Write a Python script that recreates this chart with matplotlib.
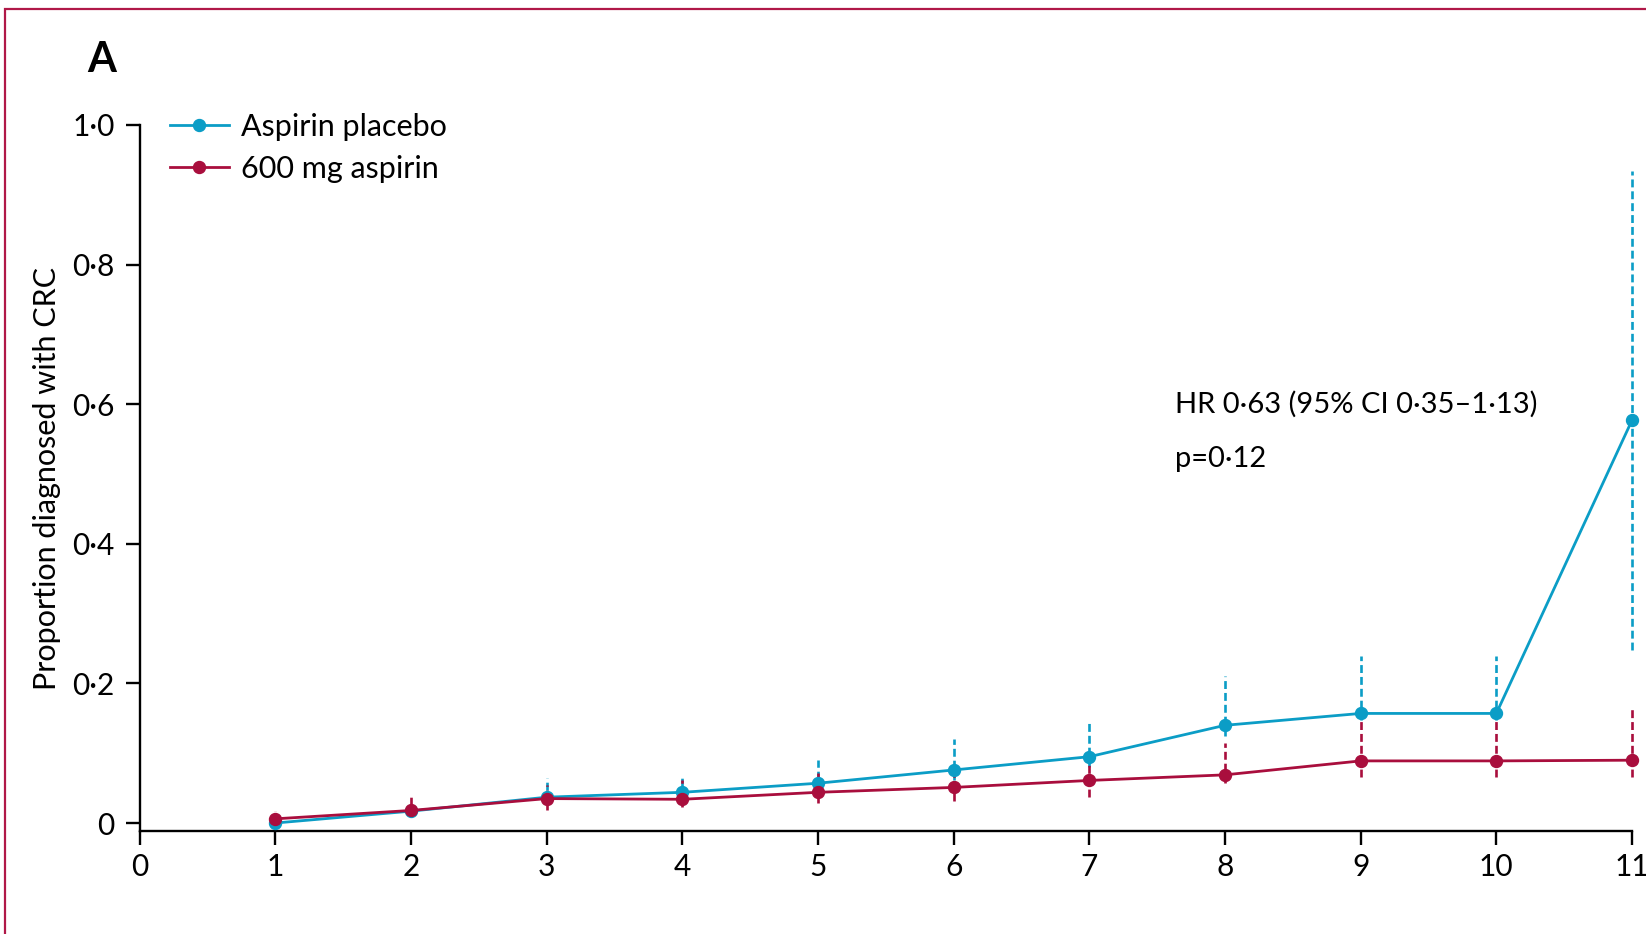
import matplotlib
matplotlib.use("Agg")
import matplotlib.pyplot as plt
from matplotlib.patches import Rectangle

# ---- data ----
years = [1, 2, 3, 4, 5, 6, 7, 8, 9, 10, 11]

placebo = [0.000, 0.017, 0.037, 0.044, 0.057, 0.076, 0.095, 0.140, 0.157, 0.157, 0.577]
placebo_lower = [0.000, 0.017, 0.030, 0.036, 0.046, 0.062, 0.080, 0.124, 0.148, 0.148, 0.248]
placebo_upper = [0.000, 0.017, 0.064, 0.069, 0.090, 0.120, 0.144, 0.210, 0.239, 0.239, 0.934]

aspirin = [0.006, 0.018, 0.035, 0.034, 0.044, 0.051, 0.061, 0.069, 0.089, 0.089, 0.090]
aspirin_lower = [0.000, 0.008, 0.019, 0.023, 0.028, 0.032, 0.037, 0.057, 0.066, 0.066, 0.066]
aspirin_upper = [0.017, 0.039, 0.054, 0.061, 0.072, 0.069, 0.083, 0.114, 0.163, 0.163, 0.163]

series_labels = ["Aspirin placebo", "600 mg aspirin"]
x_ticks = list(range(0, 12))
y_ticks = [0, 0.2, 0.4, 0.6, 0.8, 1.0]
y_tick_labels = ["0", "0·2", "0·4", "0·6", "0·8", "1·0"]
y_label = "Proportion diagnosed with CRC"
panel_label = "A"
hr_text = "HR 0·63 (95% CI 0·35–1·13)"
p_text = "p=0·12"

BLUE = "#0B9DC6"
RED = "#A90E3D"
FRAME = "#B01848"

plt.rcParams['font.family'] = ['Lato', 'DejaVu Sans']

W, H = 1646, 934
fig = plt.figure(figsize=(W / 100, H / 100), dpi=100)
ax = fig.add_axes([139.6 / W, 1 - 830.7 / H, (1632 - 139.6) / W, (830.7 - 125) / H])

ax.set_xlim(0, 11)
ax.set_ylim(-0.011, 1.0)

lw = 1.9
dash = (0, (3.0, 1.5))

def draw(y, lo, hi, color, z):
    yerr = [[a - b for a, b in zip(y, lo)], [b - a for a, b in zip(y, hi)]]
    eb = ax.errorbar(years, y, yerr=yerr, fmt='none', ecolor=color,
                     elinewidth=lw, capsize=0, zorder=z)
    for c in eb[2]:
        c.set_linestyle(dash)
        c.set_clip_on(False)
    return eb

draw(placebo, placebo_lower, placebo_upper, BLUE, 2.0)
draw(aspirin, aspirin_lower, aspirin_upper, RED, 2.1)
l1, = ax.plot(years, placebo, color=BLUE, lw=2.0, marker='o', ms=8.6,
              zorder=3.0, clip_on=False, label=series_labels[0])
l2, = ax.plot(years, aspirin, color=RED, lw=2.0, marker='o', ms=8.6,
              zorder=3.1, clip_on=False, label=series_labels[1])

# axes styling
for s in ['top', 'right']:
    ax.spines[s].set_visible(False)
for s in ['left', 'bottom']:
    ax.spines[s].set_linewidth(1.7)
    ax.spines[s].set_color('black')

ax.set_xticks(x_ticks)
ax.set_xticklabels([str(t) for t in x_ticks])
ax.set_yticks(y_ticks)
ax.set_yticklabels(y_tick_labels)
ax.tick_params(axis='both', direction='out', length=10, width=1.7, labelsize=21.5,
               colors='black')
ax.tick_params(axis='x', pad=6)
ax.tick_params(axis='y', pad=8)
ax.set_ylabel(y_label, fontsize=22, va='center')
ax.yaxis.set_label_coords((47 - 139.6) / (1632 - 139.6), (830.7 - 478) / (830.7 - 125))

ax.legend(handles=[l1, l2], loc='upper left', bbox_to_anchor=(170 / W, 1 - 113 / H),
          bbox_transform=fig.transFigure, frameon=False, fontsize=22,
          handlelength=1.93, handletextpad=0.38, labelspacing=0.46,
          borderpad=0, borderaxespad=0)

ax.text(7.63, 0.600, hr_text, fontsize=21, va='center', ha='left')
ax.text(7.63, 0.521, p_text, fontsize=21, va='center', ha='left')

fig.text(87 / W, 1 - 72 / H, panel_label, fontsize=30, fontweight='bold',
         va='baseline', ha='left')

# crimson frame (top and left edges visible)
fig.patches.append(Rectangle((5 / W, -0.05), 1.1, (H - 9) / H + 0.05,
                             transform=fig.transFigure, fill=False,
                             edgecolor=FRAME, lw=1.6, zorder=0))

fig.savefig("out.png", dpi=100)
